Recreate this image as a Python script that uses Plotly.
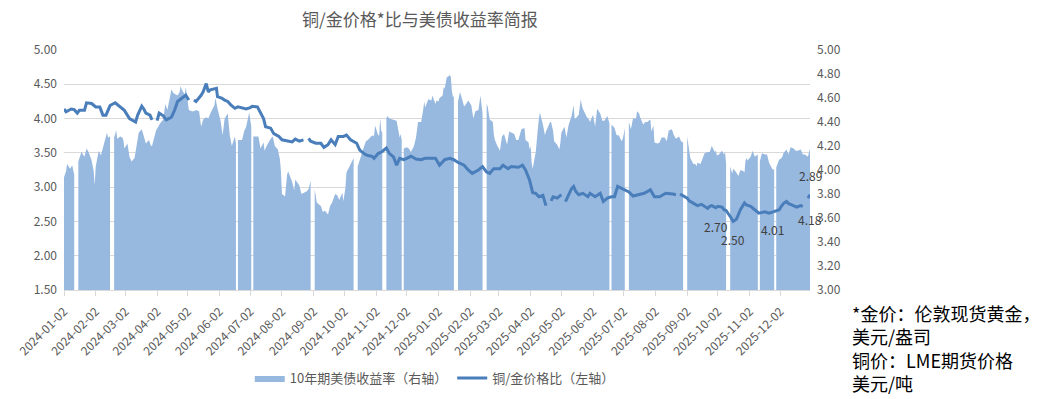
import plotly.graph_objects as go

# ---------------- data ----------------
yield_dates = [
    "2024-01-02","2024-01-04","2024-01-05","2024-01-08","2024-01-10","2024-01-12","2024-01-15","2024-01-16","2024-01-18","2024-01-19","2024-01-22","2024-01-24","2024-01-26","2024-01-29","2024-01-31",
    "2024-02-01","2024-02-02","2024-02-05","2024-02-07","2024-02-09","2024-02-13","2024-02-14","2024-02-16","2024-02-19","2024-02-20","2024-02-22","2024-02-23","2024-02-26","2024-02-28","2024-02-29",
    "2024-03-01","2024-03-04","2024-03-06","2024-03-08","2024-03-11","2024-03-13","2024-03-15","2024-03-18","2024-03-20","2024-03-22","2024-03-25","2024-03-27","2024-03-28",
    "2024-04-01","2024-04-03","2024-04-05","2024-04-08","2024-04-10","2024-04-12","2024-04-15","2024-04-16","2024-04-18","2024-04-22","2024-04-24","2024-04-25","2024-04-26","2024-04-29","2024-04-30",
    "2024-05-01","2024-05-03","2024-05-06","2024-05-08","2024-05-10","2024-05-13","2024-05-15","2024-05-17","2024-05-20","2024-05-22","2024-05-24","2024-05-28","2024-05-29","2024-05-31",
    "2024-06-03","2024-06-05","2024-06-07","2024-06-10","2024-06-12","2024-06-14","2024-06-17","2024-06-18","2024-06-19","2024-06-20","2024-06-24","2024-06-26","2024-06-28",
    "2024-07-01","2024-07-03","2024-07-04","2024-07-05","2024-07-08","2024-07-10","2024-07-12","2024-07-15","2024-07-16","2024-07-18","2024-07-22","2024-07-24","2024-07-26","2024-07-29","2024-07-31",
    "2024-08-01","2024-08-02","2024-08-05","2024-08-07","2024-08-08","2024-08-12","2024-08-14","2024-08-15","2024-08-19","2024-08-21","2024-08-23","2024-08-26","2024-08-28","2024-08-30",
    "2024-09-02","2024-09-03","2024-09-05","2024-09-06","2024-09-09","2024-09-11","2024-09-13","2024-09-16","2024-09-18","2024-09-20","2024-09-23","2024-09-25","2024-09-27","2024-09-30",
    "2024-10-01","2024-10-03","2024-10-04","2024-10-07","2024-10-09","2024-10-11","2024-10-14","2024-10-15","2024-10-17","2024-10-21","2024-10-23","2024-10-25","2024-10-28","2024-10-30","2024-10-31",
    "2024-11-01","2024-11-04","2024-11-05","2024-11-06","2024-11-07","2024-11-08","2024-11-11","2024-11-12","2024-11-13","2024-11-15","2024-11-18","2024-11-20","2024-11-22","2024-11-25","2024-11-26","2024-11-27","2024-11-28","2024-11-29",
    "2024-12-02","2024-12-04","2024-12-06","2024-12-09","2024-12-11","2024-12-13","2024-12-16","2024-12-18","2024-12-19","2024-12-20","2024-12-23","2024-12-26","2024-12-27","2024-12-30","2024-12-31",
    "2025-01-02","2025-01-03","2025-01-06","2025-01-07","2025-01-08","2025-01-10","2025-01-13","2025-01-14","2025-01-15","2025-01-16","2025-01-17","2025-01-20","2025-01-21","2025-01-22","2025-01-23","2025-01-24","2025-01-27","2025-01-29","2025-01-31",
    "2025-02-03","2025-02-05","2025-02-07","2025-02-10","2025-02-12","2025-02-13","2025-02-14","2025-02-17","2025-02-18","2025-02-19","2025-02-21","2025-02-24","2025-02-25","2025-02-26","2025-02-28",
    "2025-03-03","2025-03-04","2025-03-05","2025-03-07","2025-03-10","2025-03-12","2025-03-14","2025-03-17","2025-03-19","2025-03-21","2025-03-24","2025-03-26","2025-03-27","2025-03-28","2025-03-31",
    "2025-04-01","2025-04-02","2025-04-03","2025-04-04","2025-04-07","2025-04-08","2025-04-09","2025-04-10","2025-04-11","2025-04-14","2025-04-15","2025-04-16","2025-04-17","2025-04-21","2025-04-22","2025-04-24","2025-04-25","2025-04-28","2025-04-30",
    "2025-05-01","2025-05-02","2025-05-05","2025-05-07","2025-05-09","2025-05-12","2025-05-14","2025-05-15","2025-05-16","2025-05-19","2025-05-21","2025-05-22","2025-05-23","2025-05-27","2025-05-29","2025-05-30",
    "2025-06-02","2025-06-04","2025-06-06","2025-06-09","2025-06-11","2025-06-13","2025-06-16","2025-06-18","2025-06-19","2025-06-20","2025-06-23","2025-06-25","2025-06-27","2025-06-30",
    "2025-07-01","2025-07-02","2025-07-03","2025-07-04","2025-07-07","2025-07-09","2025-07-11","2025-07-14","2025-07-15","2025-07-17","2025-07-18","2025-07-21","2025-07-23","2025-07-25","2025-07-28","2025-07-29","2025-07-31",
    "2025-08-01","2025-08-04","2025-08-06","2025-08-08","2025-08-11","2025-08-13","2025-08-15","2025-08-18","2025-08-20","2025-08-22","2025-08-25","2025-08-27","2025-08-29",
    "2025-09-01","2025-09-02","2025-09-04","2025-09-05","2025-09-08","2025-09-10","2025-09-11","2025-09-12","2025-09-15","2025-09-17","2025-09-19","2025-09-22","2025-09-24","2025-09-26","2025-09-29","2025-09-30",
    "2025-10-01","2025-10-03","2025-10-06","2025-10-08","2025-10-09","2025-10-10","2025-10-13","2025-10-14","2025-10-16","2025-10-17","2025-10-20","2025-10-22","2025-10-24","2025-10-27","2025-10-28","2025-10-29","2025-10-30","2025-10-31",
    "2025-11-03","2025-11-05","2025-11-07","2025-11-10","2025-11-11","2025-11-12","2025-11-14","2025-11-17","2025-11-19","2025-11-21","2025-11-24","2025-11-26","2025-11-27","2025-11-28",
    "2025-12-01","2025-12-02","2025-12-04","2025-12-05","2025-12-08","2025-12-10","2025-12-12","2025-12-15","2025-12-17","2025-12-19","2025-12-22","2025-12-24","2025-12-26","2025-12-29","2025-12-31",
]
yield_values = [
    3.94,3.99,4.05,4.01,4.04,3.96,None,4.07,4.14,4.15,4.11,4.18,4.15,4.08,3.99,
    3.87,4.03,4.16,4.12,4.18,4.31,4.27,4.28,None,4.27,4.33,4.26,4.28,4.27,4.25,
    4.18,4.22,4.11,4.07,4.10,4.19,4.31,4.34,4.28,4.22,4.25,4.20,4.20,
    4.33,4.36,4.39,4.42,4.55,4.50,4.63,4.67,4.64,4.62,4.65,4.70,4.67,4.63,4.69,
    4.63,4.50,4.49,4.49,4.50,4.49,4.36,4.42,4.44,4.43,4.47,4.54,4.60,4.51,
    4.41,4.29,4.43,4.47,4.29,4.20,4.28,4.22,None,4.25,4.25,4.32,4.36,
    4.48,4.36,None,4.28,4.28,4.28,4.18,4.23,4.16,4.20,4.26,4.28,4.20,4.17,4.09,
    3.99,3.80,3.78,3.96,3.99,3.90,3.83,3.92,3.87,3.80,3.81,3.82,3.84,3.91,
    None,3.84,3.73,3.72,3.70,3.65,3.66,3.63,3.70,3.73,3.80,3.79,3.75,3.81,
    3.74,3.85,3.98,4.03,4.06,4.10,None,4.03,4.09,4.19,4.24,4.25,4.28,4.29,4.28,
    4.37,4.29,4.29,4.43,4.33,4.31,None,4.43,4.45,4.43,4.42,4.41,4.41,4.27,4.30,4.25,None,4.18,
    4.19,4.18,4.15,4.20,4.27,4.40,4.40,4.50,4.57,4.52,4.59,4.58,4.62,4.55,4.58,
    4.57,4.60,4.62,4.69,4.68,4.77,4.79,4.78,4.66,4.61,4.61,None,4.57,4.60,4.65,4.62,4.53,4.55,4.58,
    4.54,4.43,4.49,4.50,4.62,4.52,4.47,None,4.55,4.53,4.42,4.40,4.30,4.25,4.21,
    4.16,4.22,4.28,4.30,4.21,4.32,4.31,4.30,4.25,4.25,4.34,4.35,4.35,4.25,4.23,
    4.17,4.20,4.06,4.01,4.15,4.29,4.34,4.42,4.48,4.38,4.33,4.29,4.32,4.40,4.40,4.32,4.24,4.21,4.17,
    4.22,4.31,4.36,4.27,4.37,4.45,4.54,4.43,4.43,4.46,4.59,4.54,4.51,4.44,4.42,4.40,
    4.46,4.36,4.51,4.47,4.41,4.41,4.45,4.39,None,4.38,4.35,4.29,4.29,4.24,
    4.26,4.30,4.35,None,4.40,4.34,4.43,4.43,4.49,4.47,4.44,4.38,4.40,4.40,4.42,4.32,4.37,
    4.23,4.22,4.23,4.27,4.27,4.24,4.33,4.34,4.29,4.26,4.28,4.24,4.23,
    None,4.28,4.17,4.10,4.05,4.05,4.03,4.06,4.05,4.09,4.14,4.15,4.15,4.20,4.15,4.16,
    4.12,4.13,4.16,4.13,4.15,4.05,None,4.03,3.97,4.01,3.98,3.95,4.00,3.99,3.98,4.08,4.10,4.08,
    4.11,4.16,4.11,4.13,None,4.07,4.14,4.13,4.13,4.06,4.01,4.00,None,4.02,
    4.09,4.09,4.11,4.14,4.17,4.13,4.19,4.18,4.16,4.16,4.17,4.13,4.13,4.11,4.18,
]

ratio_dates = [
    "2024-01-02","2024-01-04","2024-01-09","2024-01-12","2024-01-15","2024-01-17","2024-01-22","2024-01-24","2024-01-29",
    "2024-02-02","2024-02-06","2024-02-09","2024-02-12","2024-02-14","2024-02-16","2024-02-21","2024-02-26",
    "2024-03-01","2024-03-06","2024-03-12","2024-03-14","2024-03-18","2024-03-20","2024-03-22","2024-03-26","2024-03-28","2024-03-29",
    "2024-04-01","2024-04-02","2024-04-04","2024-04-08","2024-04-11","2024-04-16","2024-04-19","2024-04-22","2024-04-26","2024-04-30",
    "2024-05-03","2024-05-06","2024-05-08","2024-05-10","2024-05-15","2024-05-17","2024-05-20","2024-05-22","2024-05-24","2024-05-28","2024-05-30","2024-05-31",
    "2024-06-04","2024-06-07","2024-06-10","2024-06-13","2024-06-17","2024-06-20","2024-06-25","2024-06-28",
    "2024-07-02","2024-07-04","2024-07-09","2024-07-12","2024-07-15","2024-07-17","2024-07-22","2024-07-25","2024-07-30",
    "2024-08-02","2024-08-07","2024-08-12","2024-08-15","2024-08-19","2024-08-23","2024-08-26","2024-08-28","2024-08-30",
    "2024-09-04","2024-09-09","2024-09-12","2024-09-16","2024-09-19","2024-09-23","2024-09-26",
    "2024-10-01","2024-10-04","2024-10-08","2024-10-14","2024-10-17","2024-10-22","2024-10-25","2024-10-29","2024-10-31",
    "2024-11-04","2024-11-08","2024-11-12","2024-11-15","2024-11-19","2024-11-22","2024-11-25","2024-11-29",
    "2024-12-02","2024-12-06","2024-12-11","2024-12-16","2024-12-20","2024-12-24","2024-12-30",
    "2025-01-03","2025-01-08","2025-01-13","2025-01-17","2025-01-21","2025-01-27","2025-01-31",
    "2025-02-04","2025-02-10","2025-02-14","2025-02-18","2025-02-21","2025-02-25",
    "2025-03-03","2025-03-06","2025-03-11","2025-03-14","2025-03-21","2025-03-25","2025-03-28",
    "2025-04-01","2025-04-04","2025-04-07","2025-04-10","2025-04-14","2025-04-16","2025-04-17","2025-04-21","2025-04-22","2025-04-24","2025-04-28","2025-04-30",
    "2025-05-02","2025-05-05","2025-05-06","2025-05-08","2025-05-12","2025-05-14","2025-05-16","2025-05-19","2025-05-23","2025-05-28","2025-05-30",
    "2025-06-04","2025-06-09","2025-06-12","2025-06-16","2025-06-20","2025-06-23","2025-06-26","2025-06-30",
    "2025-07-04","2025-07-07","2025-07-11","2025-07-17","2025-07-22","2025-07-28",
    "2025-08-01","2025-08-06","2025-08-12","2025-08-19","2025-08-22","2025-08-25","2025-08-26","2025-08-29",
    "2025-09-02","2025-09-04","2025-09-08","2025-09-10","2025-09-12","2025-09-16","2025-09-18","2025-09-22","2025-09-24","2025-09-26","2025-09-30",
    "2025-10-02","2025-10-06","2025-10-08","2025-10-10","2025-10-13","2025-10-15","2025-10-17","2025-10-20","2025-10-22","2025-10-24","2025-10-28","2025-10-30",
    "2025-11-03","2025-11-05","2025-11-07","2025-11-11","2025-11-13","2025-11-17","2025-11-19","2025-11-21","2025-11-25","2025-11-27",
    "2025-12-01","2025-12-03","2025-12-05","2025-12-08","2025-12-10","2025-12-12","2025-12-16","2025-12-18","2025-12-22","2025-12-24","2025-12-26","2025-12-29","2025-12-30","2025-12-31",
]
ratio_values = [
    4.14,4.10,4.14,4.13,4.08,4.12,4.12,4.23,4.22,
    4.17,4.17,4.05,4.05,4.13,4.19,4.23,4.17,
    4.12,4.00,3.95,4.05,4.18,4.14,4.08,4.05,3.98,None,
    None,3.97,4.08,4.04,3.98,4.02,4.12,4.25,4.30,4.34,
    4.27,None,4.27,4.25,4.34,4.39,4.51,4.39,4.42,4.44,4.44,4.32,
    4.30,4.27,4.25,4.20,4.15,4.17,4.15,4.14,
    4.16,4.18,4.17,4.08,4.00,3.88,3.86,3.78,3.74,
    3.69,3.67,3.66,3.70,3.67,3.69,None,3.71,3.67,
    3.64,3.64,3.58,3.62,3.69,3.62,3.74,
    3.74,3.76,3.69,3.64,3.54,3.48,3.46,3.45,3.42,
    3.49,3.52,3.57,3.49,3.44,3.32,3.42,3.40,
    3.42,3.45,3.41,3.40,3.42,3.42,3.42,
    3.32,3.40,3.42,3.40,3.36,3.32,3.25,
    3.20,3.25,3.30,3.22,3.20,3.27,
    3.27,3.32,3.27,3.30,3.29,3.32,3.25,
    3.10,2.92,2.91,2.86,2.88,2.79,2.73,None,2.80,2.86,2.84,2.86,
    2.89,None,2.79,2.86,2.98,3.01,2.94,2.89,2.91,2.86,2.91,
    2.86,2.91,2.79,2.84,2.86,2.86,3.01,2.98,
    2.96,2.93,2.87,2.89,2.91,2.96,
    2.86,2.86,2.91,2.90,2.89,None,2.90,2.87,
    2.84,2.80,2.76,2.74,2.73,2.75,2.73,2.69,2.72,2.73,2.70,
    2.72,2.71,2.67,2.66,2.60,2.55,2.50,2.53,2.60,2.67,2.77,2.74,
    2.72,2.70,2.67,2.62,2.63,2.64,2.63,2.62,2.64,2.65,
    2.67,2.72,2.76,2.79,2.76,2.75,2.72,2.71,2.73,2.72,None,2.84,2.86,2.89,
]

tick_dates = [
    "2024-01-02","2024-02-02","2024-03-02","2024-04-02","2024-05-02","2024-06-02",
    "2024-07-02","2024-08-02","2024-09-02","2024-10-02","2024-11-02","2024-12-02",
    "2025-01-02","2025-02-02","2025-03-02","2025-04-02","2025-05-02","2025-06-02",
    "2025-07-02","2025-08-02","2025-09-02","2025-10-02","2025-11-02","2025-12-02",
]
left_ticks = [1.5, 2.0, 2.5, 3.0, 3.5, 4.0, 4.5, 5.0]
right_ticks = [3.0, 3.2, 3.4, 3.6, 3.8, 4.0, 4.2, 4.4, 4.6, 4.8, 5.0]

# dates that carry a data label
ratio_label_dates = ["2025-09-30", "2025-10-17", "2025-12-31"]
yield_label_dates = ["2025-11-24", "2025-12-31"]

title_text = "铜/金价格*比与美债收益率简报"
yield_name = "10年期美债收益率（右轴）"
ratio_name = "铜/金价格比（左轴）"
note_lines = ["*金价：伦敦现货黄金，", "美元/盎司", "铜价：LME期货价格", "美元/吨"]

assert len(yield_dates) == len(yield_values)
assert len(ratio_dates) == len(ratio_values)

# ---------------- styling ----------------
AREA = "#97b8df"
LINE = "#4a7ebb"
GRID = "#d9d9d9"
TXT = "#595959"
FONT = "Noto Sans CJK SC, Noto Sans, sans-serif"
RIGHT_RANGE = [3.0, 5.0]
LEFT_RANGE = [1.5, 5.0]
X_RANGE = ["2024-01-02", "2025-12-31"]

fig = go.Figure()

# area: one filled trace per run of valid yields (missing days leave white gaps)
segments, cur = [], ([], [])
for d, v in zip(yield_dates, yield_values):
    if v is None:
        if cur[0]:
            segments.append(cur)
        cur = ([], [])
    else:
        cur[0].append(d)
        cur[1].append(v)
if cur[0]:
    segments.append(cur)

for i, (xs, ys) in enumerate(segments):
    fig.add_trace(go.Scatter(
        x=xs, y=ys, name=yield_name, yaxis="y", legendgroup="yield",
        showlegend=(i == 0), mode="lines", line=dict(width=0, color=AREA),
        fill="tozeroy", fillcolor=AREA, hoverinfo="skip",
    ))

fig.add_trace(go.Scatter(
    x=ratio_dates, y=ratio_values, name=ratio_name, yaxis="y2",
    mode="lines", line=dict(width=3, color=LINE), connectgaps=False,
))

# data labels
ratio_shift = {"2025-09-30": -19, "2025-10-17": -18, "2025-12-31": 19}
for d in ratio_label_dates:
    v = ratio_values[ratio_dates.index(d)]
    fig.add_annotation(x=d, y=v, xref="x", yref="y2", text=f"{v:.2f}",
                       showarrow=False, yshift=ratio_shift[d],
                       font=dict(size=12, color="#404040", family=FONT))
for d in yield_label_dates:
    v = yield_values[yield_dates.index(d)]
    fig.add_annotation(x=d, y=(v + RIGHT_RANGE[0]) / 2, xref="x", yref="y",
                       text=f"{v:.2f}", showarrow=False,
                       font=dict(size=12, color="#404040", family=FONT))

# side note
fig.add_annotation(x=1.0536, y=-0.032, xref="paper", yref="paper",
                   xanchor="left", yanchor="top", align="left",
                   text="<br>".join(note_lines), showarrow=False,
                   font=dict(size=18, color="#000000", family=FONT))

fig.update_layout(
    width=1045, height=399,
    margin=dict(l=64, r=235, t=50, b=109, pad=0, autoexpand=False),
    paper_bgcolor="white", plot_bgcolor="white",
    font=dict(family=FONT, size=12, color=TXT),
    title=dict(text=title_text, x=0.477, xref="paper", xanchor="center",
               y=1 - 20 / 399, yref="container", yanchor="middle",
               font=dict(size=17, color=TXT, family=FONT)),
    showlegend=True,
    legend=dict(orientation="h", x=0.497, xanchor="center", xref="paper",
                y=1 - 378 / 399, yref="container", yanchor="middle",
                font=dict(size=13, color=TXT, family=FONT),
                bgcolor="rgba(0,0,0,0)", itemwidth=30, tracegroupgap=0),
    xaxis=dict(type="date", range=X_RANGE, tickvals=tick_dates, ticktext=tick_dates,
               tickangle=-45, ticks="outside", ticklen=5, tickcolor=GRID,
               showline=True, linecolor=GRID, linewidth=1, showgrid=False,
               zeroline=False, tickfont=dict(size=12, color=TXT),
               ticklabelstandoff=4),
    yaxis=dict(range=RIGHT_RANGE, side="right", tickvals=right_ticks,
               tickformat=".2f", showgrid=False, zeroline=False, showline=False,
               ticks="", tickfont=dict(size=12, color=TXT), ticklabelstandoff=6),
    yaxis2=dict(range=LEFT_RANGE, side="left", overlaying="y", tickvals=left_ticks,
                tickformat=".2f", showgrid=True, gridcolor=GRID, gridwidth=1,
                zeroline=False, showline=False, ticks="",
                tickfont=dict(size=12, color=TXT), ticklabelstandoff=6),
)

fig.write_html(
    "out.html",
    config={"displayModeBar": False},
    post_script="document.body.style.margin='0';document.body.style.overflow='hidden';",
)
